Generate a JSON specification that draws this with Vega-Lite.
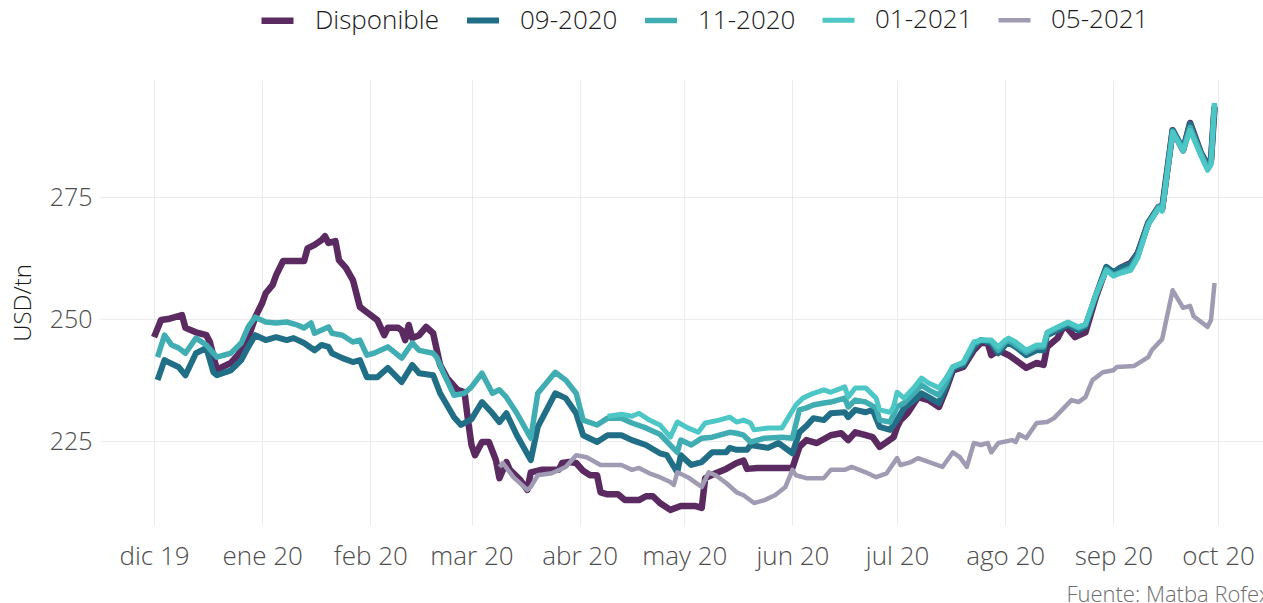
{
  "$schema": "https://vega.github.io/schema/vega-lite/v6.json",
  "width": 1163,
  "height": 445,
  "autosize": {"type": "none"},
  "padding": {"left": 100, "top": 80, "right": 0, "bottom": 78},
  "background": "white",
  "config": {
    "view": {"stroke": null},
    "font": "Open Sans",
    "axis": {"labelFont": "Open Sans", "titleFont": "Open Sans", "labelFontWeight": 300, "titleFontWeight": 300},
    "legend": {"labelFont": "Open Sans", "labelFontWeight": 300}
  },
  "title": {"text": "Fuente: Matba Rofex", "orient": "bottom", "anchor": "end", "fontSize": 22, "fontWeight": 300, "color": "#6e6e6e", "dx": 7, "offset": 16, "font": "Open Sans"},
  "data": {"values": [
    {"s":"Disponible","d":"2019-12-01","v":246.3},{"s":"Disponible","d":"2019-12-03","v":249.8},{"s":"Disponible","d":"2019-12-05","v":250.0},{"s":"Disponible","d":"2019-12-07","v":250.4},{"s":"Disponible","d":"2019-12-09","v":250.8},{"s":"Disponible","d":"2019-12-10","v":248.2},{"s":"Disponible","d":"2019-12-13","v":247.3},{"s":"Disponible","d":"2019-12-16","v":246.7},{"s":"Disponible","d":"2019-12-17","v":245.3},{"s":"Disponible","d":"2019-12-19","v":239.6},{"s":"Disponible","d":"2019-12-20","v":240.0},{"s":"Disponible","d":"2019-12-23","v":241.0},{"s":"Disponible","d":"2019-12-25","v":242.6},{"s":"Disponible","d":"2019-12-28","v":246.1},{"s":"Disponible","d":"2019-12-30","v":250.4},
    {"s":"Disponible","d":"2020-01-01","v":253.3},{"s":"Disponible","d":"2020-01-02","v":255.3},{"s":"Disponible","d":"2020-01-04","v":257.0},{"s":"Disponible","d":"2020-01-05","v":259.0},{"s":"Disponible","d":"2020-01-07","v":261.9},{"s":"Disponible","d":"2020-01-10","v":261.9},{"s":"Disponible","d":"2020-01-13","v":261.9},{"s":"Disponible","d":"2020-01-14","v":264.5},{"s":"Disponible","d":"2020-01-16","v":265.2},{"s":"Disponible","d":"2020-01-18","v":266.2},{"s":"Disponible","d":"2020-01-19","v":267.0},{"s":"Disponible","d":"2020-01-20","v":265.6},{"s":"Disponible","d":"2020-01-22","v":266.0},{"s":"Disponible","d":"2020-01-23","v":262.1},{"s":"Disponible","d":"2020-01-25","v":260.5},{"s":"Disponible","d":"2020-01-27","v":258.0},{"s":"Disponible","d":"2020-01-29","v":252.5},{"s":"Disponible","d":"2020-01-31","v":251.4},
    {"s":"Disponible","d":"2020-02-03","v":249.8},{"s":"Disponible","d":"2020-02-05","v":246.7},{"s":"Disponible","d":"2020-02-06","v":248.2},{"s":"Disponible","d":"2020-02-09","v":248.2},{"s":"Disponible","d":"2020-02-10","v":247.7},{"s":"Disponible","d":"2020-02-11","v":245.7},{"s":"Disponible","d":"2020-02-12","v":248.8},{"s":"Disponible","d":"2020-02-13","v":246.1},{"s":"Disponible","d":"2020-02-15","v":246.7},{"s":"Disponible","d":"2020-02-17","v":248.4},{"s":"Disponible","d":"2020-02-19","v":247.1},{"s":"Disponible","d":"2020-02-21","v":240.6},{"s":"Disponible","d":"2020-02-23","v":237.9},{"s":"Disponible","d":"2020-02-26","v":235.5},{"s":"Disponible","d":"2020-02-28","v":235.0},{"s":"Disponible","d":"2020-02-29","v":229.3},
    {"s":"Disponible","d":"2020-03-01","v":224.2},{"s":"Disponible","d":"2020-03-02","v":222.1},{"s":"Disponible","d":"2020-03-04","v":224.8},{"s":"Disponible","d":"2020-03-06","v":224.8},{"s":"Disponible","d":"2020-03-08","v":221.1},{"s":"Disponible","d":"2020-03-09","v":217.4},{"s":"Disponible","d":"2020-03-11","v":220.7},{"s":"Disponible","d":"2020-03-12","v":219.1},{"s":"Disponible","d":"2020-03-15","v":217.0},{"s":"Disponible","d":"2020-03-17","v":215.0},{"s":"Disponible","d":"2020-03-18","v":218.6},{"s":"Disponible","d":"2020-03-21","v":219.1},{"s":"Disponible","d":"2020-03-23","v":219.1},{"s":"Disponible","d":"2020-03-26","v":219.1},{"s":"Disponible","d":"2020-03-27","v":220.5},{"s":"Disponible","d":"2020-03-29","v":220.7},{"s":"Disponible","d":"2020-03-31","v":220.5},
    {"s":"Disponible","d":"2020-04-02","v":218.9},{"s":"Disponible","d":"2020-04-04","v":218.0},{"s":"Disponible","d":"2020-04-06","v":218.0},{"s":"Disponible","d":"2020-04-07","v":214.5},{"s":"Disponible","d":"2020-04-09","v":214.1},{"s":"Disponible","d":"2020-04-12","v":214.1},{"s":"Disponible","d":"2020-04-14","v":212.9},{"s":"Disponible","d":"2020-04-18","v":212.9},{"s":"Disponible","d":"2020-04-20","v":213.7},{"s":"Disponible","d":"2020-04-22","v":213.7},{"s":"Disponible","d":"2020-04-24","v":212.3},{"s":"Disponible","d":"2020-04-27","v":210.9},{"s":"Disponible","d":"2020-04-30","v":211.7},
    {"s":"Disponible","d":"2020-05-04","v":211.7},{"s":"Disponible","d":"2020-05-06","v":211.3},{"s":"Disponible","d":"2020-05-07","v":217.4},{"s":"Disponible","d":"2020-05-10","v":218.4},{"s":"Disponible","d":"2020-05-13","v":219.3},{"s":"Disponible","d":"2020-05-16","v":220.5},{"s":"Disponible","d":"2020-05-18","v":221.0},{"s":"Disponible","d":"2020-05-19","v":219.3},{"s":"Disponible","d":"2020-05-22","v":219.5},{"s":"Disponible","d":"2020-05-26","v":219.5},{"s":"Disponible","d":"2020-05-30","v":219.5},
    {"s":"Disponible","d":"2020-06-01","v":219.5},{"s":"Disponible","d":"2020-06-03","v":223.8},{"s":"Disponible","d":"2020-06-05","v":225.2},{"s":"Disponible","d":"2020-06-08","v":224.6},{"s":"Disponible","d":"2020-06-12","v":226.2},{"s":"Disponible","d":"2020-06-15","v":226.6},{"s":"Disponible","d":"2020-06-17","v":225.2},{"s":"Disponible","d":"2020-06-19","v":226.8},{"s":"Disponible","d":"2020-06-22","v":226.2},{"s":"Disponible","d":"2020-06-24","v":225.8},{"s":"Disponible","d":"2020-06-26","v":223.8},{"s":"Disponible","d":"2020-06-28","v":224.8},{"s":"Disponible","d":"2020-06-30","v":225.8},
    {"s":"Disponible","d":"2020-07-01","v":227.9},{"s":"Disponible","d":"2020-07-02","v":229.3},{"s":"Disponible","d":"2020-07-04","v":230.7},{"s":"Disponible","d":"2020-07-07","v":234.0},{"s":"Disponible","d":"2020-07-10","v":233.4},{"s":"Disponible","d":"2020-07-13","v":232.0},{"s":"Disponible","d":"2020-07-15","v":235.5},{"s":"Disponible","d":"2020-07-17","v":239.5},{"s":"Disponible","d":"2020-07-20","v":240.2},{"s":"Disponible","d":"2020-07-23","v":243.6},{"s":"Disponible","d":"2020-07-25","v":245.1},{"s":"Disponible","d":"2020-07-27","v":245.1},{"s":"Disponible","d":"2020-07-28","v":242.6},{"s":"Disponible","d":"2020-07-30","v":243.6},
    {"s":"Disponible","d":"2020-08-02","v":242.6},{"s":"Disponible","d":"2020-08-04","v":241.6},{"s":"Disponible","d":"2020-08-07","v":240.0},{"s":"Disponible","d":"2020-08-10","v":241.0},{"s":"Disponible","d":"2020-08-12","v":240.6},{"s":"Disponible","d":"2020-08-13","v":244.3},{"s":"Disponible","d":"2020-08-16","v":246.1},{"s":"Disponible","d":"2020-08-18","v":248.8},{"s":"Disponible","d":"2020-08-21","v":246.3},{"s":"Disponible","d":"2020-08-24","v":247.3},{"s":"Disponible","d":"2020-08-27","v":254.5},{"s":"Disponible","d":"2020-08-30","v":260.5},
    {"s":"Disponible","d":"2020-09-01","v":259.4},{"s":"Disponible","d":"2020-09-03","v":260.5},{"s":"Disponible","d":"2020-09-06","v":261.5},{"s":"Disponible","d":"2020-09-08","v":263.5},{"s":"Disponible","d":"2020-09-11","v":269.7},{"s":"Disponible","d":"2020-09-14","v":273.0},{"s":"Disponible","d":"2020-09-15","v":272.7},{"s":"Disponible","d":"2020-09-18","v":288.7},{"s":"Disponible","d":"2020-09-21","v":284.6},{"s":"Disponible","d":"2020-09-23","v":290.2},{"s":"Disponible","d":"2020-09-26","v":284.2},{"s":"Disponible","d":"2020-09-28","v":281.6},{"s":"Disponible","d":"2020-09-29","v":282.6},{"s":"Disponible","d":"2020-09-30","v":293.4},

    {"s":"09-2020","d":"2019-12-02","v":237.5},{"s":"09-2020","d":"2019-12-04","v":241.6},{"s":"09-2020","d":"2019-12-05","v":241.2},{"s":"09-2020","d":"2019-12-08","v":240.2},{"s":"09-2020","d":"2019-12-10","v":238.5},{"s":"09-2020","d":"2019-12-13","v":243.0},{"s":"09-2020","d":"2019-12-16","v":244.1},{"s":"09-2020","d":"2019-12-18","v":239.1},{"s":"09-2020","d":"2019-12-19","v":238.5},{"s":"09-2020","d":"2019-12-23","v":239.5},{"s":"09-2020","d":"2019-12-26","v":241.6},{"s":"09-2020","d":"2019-12-28","v":244.3},{"s":"09-2020","d":"2019-12-30","v":246.7},
    {"s":"09-2020","d":"2020-01-02","v":245.7},{"s":"09-2020","d":"2020-01-05","v":246.3},{"s":"09-2020","d":"2020-01-08","v":245.7},{"s":"09-2020","d":"2020-01-10","v":246.1},{"s":"09-2020","d":"2020-01-13","v":245.1},{"s":"09-2020","d":"2020-01-16","v":243.6},{"s":"09-2020","d":"2020-01-18","v":244.7},{"s":"09-2020","d":"2020-01-20","v":244.3},{"s":"09-2020","d":"2020-01-21","v":243.0},{"s":"09-2020","d":"2020-01-24","v":242.0},{"s":"09-2020","d":"2020-01-27","v":241.2},{"s":"09-2020","d":"2020-01-29","v":241.6},{"s":"09-2020","d":"2020-01-31","v":238.1},
    {"s":"09-2020","d":"2020-02-03","v":238.1},{"s":"09-2020","d":"2020-02-06","v":240.0},{"s":"09-2020","d":"2020-02-10","v":237.1},{"s":"09-2020","d":"2020-02-13","v":240.6},{"s":"09-2020","d":"2020-02-15","v":238.9},{"s":"09-2020","d":"2020-02-19","v":238.5},{"s":"09-2020","d":"2020-02-21","v":234.8},{"s":"09-2020","d":"2020-02-25","v":229.9},{"s":"09-2020","d":"2020-02-27","v":228.3},
    {"s":"09-2020","d":"2020-03-01","v":229.5},{"s":"09-2020","d":"2020-03-04","v":233.0},{"s":"09-2020","d":"2020-03-07","v":230.7},{"s":"09-2020","d":"2020-03-09","v":228.9},{"s":"09-2020","d":"2020-03-11","v":230.7},{"s":"09-2020","d":"2020-03-14","v":226.2},{"s":"09-2020","d":"2020-03-18","v":221.1},{"s":"09-2020","d":"2020-03-20","v":227.9},{"s":"09-2020","d":"2020-03-25","v":234.8},{"s":"09-2020","d":"2020-03-28","v":233.8},{"s":"09-2020","d":"2020-03-31","v":230.7},
    {"s":"09-2020","d":"2020-04-02","v":226.2},{"s":"09-2020","d":"2020-04-06","v":224.8},{"s":"09-2020","d":"2020-04-09","v":226.2},{"s":"09-2020","d":"2020-04-13","v":226.2},{"s":"09-2020","d":"2020-04-16","v":225.2},{"s":"09-2020","d":"2020-04-20","v":224.2},{"s":"09-2020","d":"2020-04-24","v":222.5},{"s":"09-2020","d":"2020-04-26","v":222.1},{"s":"09-2020","d":"2020-04-29","v":218.6},{"s":"09-2020","d":"2020-04-30","v":222.1},
    {"s":"09-2020","d":"2020-05-03","v":220.1},{"s":"09-2020","d":"2020-05-06","v":220.7},{"s":"09-2020","d":"2020-05-09","v":222.7},{"s":"09-2020","d":"2020-05-13","v":222.7},{"s":"09-2020","d":"2020-05-14","v":223.6},{"s":"09-2020","d":"2020-05-16","v":223.2},{"s":"09-2020","d":"2020-05-19","v":223.2},{"s":"09-2020","d":"2020-05-20","v":224.2},{"s":"09-2020","d":"2020-05-25","v":223.6},{"s":"09-2020","d":"2020-05-28","v":224.6},
    {"s":"09-2020","d":"2020-06-01","v":222.5},{"s":"09-2020","d":"2020-06-03","v":226.8},{"s":"09-2020","d":"2020-06-05","v":228.1},{"s":"09-2020","d":"2020-06-07","v":229.7},{"s":"09-2020","d":"2020-06-10","v":229.3},{"s":"09-2020","d":"2020-06-12","v":230.7},{"s":"09-2020","d":"2020-06-16","v":230.9},{"s":"09-2020","d":"2020-06-17","v":229.9},{"s":"09-2020","d":"2020-06-19","v":231.4},{"s":"09-2020","d":"2020-06-22","v":230.9},{"s":"09-2020","d":"2020-06-24","v":231.4},{"s":"09-2020","d":"2020-06-26","v":227.9},{"s":"09-2020","d":"2020-06-29","v":227.3},
    {"s":"09-2020","d":"2020-07-01","v":229.3},{"s":"09-2020","d":"2020-07-03","v":231.8},{"s":"09-2020","d":"2020-07-06","v":233.4},{"s":"09-2020","d":"2020-07-08","v":234.8},{"s":"09-2020","d":"2020-07-10","v":234.0},{"s":"09-2020","d":"2020-07-13","v":232.8},{"s":"09-2020","d":"2020-07-15","v":236.1},{"s":"09-2020","d":"2020-07-17","v":240.0},{"s":"09-2020","d":"2020-07-20","v":240.6},{"s":"09-2020","d":"2020-07-23","v":244.3},{"s":"09-2020","d":"2020-07-25","v":245.7},{"s":"09-2020","d":"2020-07-28","v":245.1},{"s":"09-2020","d":"2020-07-30","v":243.0},
    {"s":"09-2020","d":"2020-08-01","v":244.7},{"s":"09-2020","d":"2020-08-02","v":245.1},{"s":"09-2020","d":"2020-08-04","v":244.3},{"s":"09-2020","d":"2020-08-07","v":242.6},{"s":"09-2020","d":"2020-08-10","v":243.6},{"s":"09-2020","d":"2020-08-12","v":243.6},{"s":"09-2020","d":"2020-08-13","v":246.7},{"s":"09-2020","d":"2020-08-16","v":247.7},{"s":"09-2020","d":"2020-08-19","v":248.8},{"s":"09-2020","d":"2020-08-22","v":247.7},{"s":"09-2020","d":"2020-08-24","v":248.4},{"s":"09-2020","d":"2020-08-27","v":254.9},{"s":"09-2020","d":"2020-08-30","v":260.7},
    {"s":"09-2020","d":"2020-09-01","v":259.6},{"s":"09-2020","d":"2020-09-03","v":260.5},{"s":"09-2020","d":"2020-09-06","v":261.3},{"s":"09-2020","d":"2020-09-08","v":263.5},{"s":"09-2020","d":"2020-09-11","v":269.7},{"s":"09-2020","d":"2020-09-14","v":273.0},{"s":"09-2020","d":"2020-09-15","v":272.5},{"s":"09-2020","d":"2020-09-18","v":288.7},{"s":"09-2020","d":"2020-09-21","v":284.8},{"s":"09-2020","d":"2020-09-23","v":290.0},{"s":"09-2020","d":"2020-09-26","v":284.2},{"s":"09-2020","d":"2020-09-28","v":281.4},{"s":"09-2020","d":"2020-09-29","v":282.4},{"s":"09-2020","d":"2020-09-30","v":293.6},

    {"s":"11-2020","d":"2019-12-02","v":242.2},{"s":"11-2020","d":"2019-12-04","v":246.7},{"s":"11-2020","d":"2019-12-06","v":244.7},{"s":"11-2020","d":"2019-12-08","v":244.1},{"s":"11-2020","d":"2019-12-10","v":243.0},{"s":"11-2020","d":"2019-12-13","v":246.1},{"s":"11-2020","d":"2019-12-16","v":244.7},{"s":"11-2020","d":"2019-12-19","v":242.2},{"s":"11-2020","d":"2019-12-23","v":243.0},{"s":"11-2020","d":"2019-12-26","v":245.1},{"s":"11-2020","d":"2019-12-28","v":248.4},{"s":"11-2020","d":"2019-12-30","v":250.4},
    {"s":"11-2020","d":"2020-01-02","v":249.4},{"s":"11-2020","d":"2020-01-05","v":249.2},{"s":"11-2020","d":"2020-01-08","v":249.4},{"s":"11-2020","d":"2020-01-11","v":248.8},{"s":"11-2020","d":"2020-01-13","v":248.2},{"s":"11-2020","d":"2020-01-15","v":249.2},{"s":"11-2020","d":"2020-01-16","v":247.1},{"s":"11-2020","d":"2020-01-20","v":248.4},{"s":"11-2020","d":"2020-01-21","v":247.1},{"s":"11-2020","d":"2020-01-24","v":246.7},{"s":"11-2020","d":"2020-01-27","v":245.3},{"s":"11-2020","d":"2020-01-29","v":245.7},{"s":"11-2020","d":"2020-01-31","v":242.6},
    {"s":"11-2020","d":"2020-02-02","v":243.0},{"s":"11-2020","d":"2020-02-06","v":244.3},{"s":"11-2020","d":"2020-02-10","v":242.0},{"s":"11-2020","d":"2020-02-13","v":245.1},{"s":"11-2020","d":"2020-02-15","v":243.6},{"s":"11-2020","d":"2020-02-19","v":243.0},{"s":"11-2020","d":"2020-02-20","v":242.2},{"s":"11-2020","d":"2020-02-22","v":238.9},{"s":"11-2020","d":"2020-02-25","v":234.4},{"s":"11-2020","d":"2020-02-28","v":234.8},
    {"s":"11-2020","d":"2020-03-01","v":236.1},{"s":"11-2020","d":"2020-03-04","v":238.9},{"s":"11-2020","d":"2020-03-07","v":234.8},{"s":"11-2020","d":"2020-03-09","v":235.5},{"s":"11-2020","d":"2020-03-11","v":234.0},{"s":"11-2020","d":"2020-03-14","v":230.7},{"s":"11-2020","d":"2020-03-18","v":225.6},{"s":"11-2020","d":"2020-03-20","v":234.8},{"s":"11-2020","d":"2020-03-25","v":239.1},{"s":"11-2020","d":"2020-03-28","v":237.5},{"s":"11-2020","d":"2020-03-31","v":234.8},
    {"s":"11-2020","d":"2020-04-02","v":229.3},{"s":"11-2020","d":"2020-04-06","v":228.3},{"s":"11-2020","d":"2020-04-09","v":229.7},{"s":"11-2020","d":"2020-04-13","v":229.7},{"s":"11-2020","d":"2020-04-16","v":228.7},{"s":"11-2020","d":"2020-04-20","v":227.7},{"s":"11-2020","d":"2020-04-24","v":226.4},{"s":"11-2020","d":"2020-04-29","v":222.7},{"s":"11-2020","d":"2020-04-30","v":225.2},
    {"s":"11-2020","d":"2020-05-03","v":224.2},{"s":"11-2020","d":"2020-05-06","v":225.6},{"s":"11-2020","d":"2020-05-09","v":225.8},{"s":"11-2020","d":"2020-05-14","v":226.8},{"s":"11-2020","d":"2020-05-16","v":226.6},{"s":"11-2020","d":"2020-05-18","v":226.2},{"s":"11-2020","d":"2020-05-20","v":224.8},{"s":"11-2020","d":"2020-05-24","v":225.6},{"s":"11-2020","d":"2020-05-29","v":225.8},
    {"s":"11-2020","d":"2020-06-01","v":225.6},{"s":"11-2020","d":"2020-06-03","v":231.4},{"s":"11-2020","d":"2020-06-05","v":231.8},{"s":"11-2020","d":"2020-06-07","v":232.4},{"s":"11-2020","d":"2020-06-10","v":232.8},{"s":"11-2020","d":"2020-06-12","v":233.0},{"s":"11-2020","d":"2020-06-16","v":233.8},{"s":"11-2020","d":"2020-06-17","v":232.0},{"s":"11-2020","d":"2020-06-19","v":233.4},{"s":"11-2020","d":"2020-06-22","v":233.0},{"s":"11-2020","d":"2020-06-25","v":231.8},{"s":"11-2020","d":"2020-06-26","v":229.3},{"s":"11-2020","d":"2020-06-29","v":228.9},
    {"s":"11-2020","d":"2020-07-01","v":232.0},{"s":"11-2020","d":"2020-07-03","v":232.8},{"s":"11-2020","d":"2020-07-06","v":235.0},{"s":"11-2020","d":"2020-07-08","v":236.5},{"s":"11-2020","d":"2020-07-10","v":235.5},{"s":"11-2020","d":"2020-07-13","v":234.4},{"s":"11-2020","d":"2020-07-15","v":236.9},{"s":"11-2020","d":"2020-07-17","v":240.2},{"s":"11-2020","d":"2020-07-20","v":241.0},{"s":"11-2020","d":"2020-07-23","v":244.9},{"s":"11-2020","d":"2020-07-25","v":245.7},{"s":"11-2020","d":"2020-07-28","v":245.5},{"s":"11-2020","d":"2020-07-30","v":243.6},
    {"s":"11-2020","d":"2020-08-01","v":245.3},{"s":"11-2020","d":"2020-08-02","v":245.7},{"s":"11-2020","d":"2020-08-04","v":244.7},{"s":"11-2020","d":"2020-08-07","v":243.2},{"s":"11-2020","d":"2020-08-10","v":244.3},{"s":"11-2020","d":"2020-08-12","v":244.3},{"s":"11-2020","d":"2020-08-13","v":247.1},{"s":"11-2020","d":"2020-08-16","v":248.2},{"s":"11-2020","d":"2020-08-19","v":249.2},{"s":"11-2020","d":"2020-08-22","v":248.2},{"s":"11-2020","d":"2020-08-24","v":248.8},{"s":"11-2020","d":"2020-08-27","v":254.9},{"s":"11-2020","d":"2020-08-30","v":260.2},
    {"s":"11-2020","d":"2020-09-01","v":259.0},{"s":"11-2020","d":"2020-09-03","v":259.6},{"s":"11-2020","d":"2020-09-06","v":260.5},{"s":"11-2020","d":"2020-09-08","v":262.9},{"s":"11-2020","d":"2020-09-11","v":269.5},{"s":"11-2020","d":"2020-09-14","v":273.0},{"s":"11-2020","d":"2020-09-15","v":272.3},{"s":"11-2020","d":"2020-09-18","v":288.5},{"s":"11-2020","d":"2020-09-21","v":284.6},{"s":"11-2020","d":"2020-09-23","v":289.3},{"s":"11-2020","d":"2020-09-26","v":284.0},{"s":"11-2020","d":"2020-09-28","v":280.9},{"s":"11-2020","d":"2020-09-29","v":282.0},{"s":"11-2020","d":"2020-09-30","v":294.1},

    {"s":"01-2021","d":"2020-04-09","v":230.1},{"s":"01-2021","d":"2020-04-13","v":230.5},{"s":"01-2021","d":"2020-04-16","v":230.1},{"s":"01-2021","d":"2020-04-18","v":230.7},{"s":"01-2021","d":"2020-04-21","v":229.3},{"s":"01-2021","d":"2020-04-24","v":228.3},{"s":"01-2021","d":"2020-04-27","v":225.8},{"s":"01-2021","d":"2020-04-29","v":228.9},
    {"s":"01-2021","d":"2020-05-02","v":227.7},{"s":"01-2021","d":"2020-05-05","v":226.8},{"s":"01-2021","d":"2020-05-07","v":228.7},{"s":"01-2021","d":"2020-05-11","v":229.3},{"s":"01-2021","d":"2020-05-14","v":229.9},{"s":"01-2021","d":"2020-05-16","v":228.9},{"s":"01-2021","d":"2020-05-18","v":229.3},{"s":"01-2021","d":"2020-05-20","v":228.7},{"s":"01-2021","d":"2020-05-21","v":227.3},{"s":"01-2021","d":"2020-05-25","v":227.7},{"s":"01-2021","d":"2020-05-29","v":227.7},
    {"s":"01-2021","d":"2020-06-02","v":232.4},{"s":"01-2021","d":"2020-06-04","v":233.8},{"s":"01-2021","d":"2020-06-07","v":234.8},{"s":"01-2021","d":"2020-06-10","v":235.5},{"s":"01-2021","d":"2020-06-12","v":235.0},{"s":"01-2021","d":"2020-06-16","v":236.1},{"s":"01-2021","d":"2020-06-17","v":234.0},{"s":"01-2021","d":"2020-06-19","v":235.9},{"s":"01-2021","d":"2020-06-22","v":235.9},{"s":"01-2021","d":"2020-06-25","v":233.8},{"s":"01-2021","d":"2020-06-26","v":231.4},{"s":"01-2021","d":"2020-06-29","v":230.9},{"s":"01-2021","d":"2020-06-30","v":232.0},
    {"s":"01-2021","d":"2020-07-01","v":235.0},{"s":"01-2021","d":"2020-07-03","v":233.8},{"s":"01-2021","d":"2020-07-06","v":236.1},{"s":"01-2021","d":"2020-07-08","v":237.9},{"s":"01-2021","d":"2020-07-10","v":236.9},{"s":"01-2021","d":"2020-07-13","v":235.9},{"s":"01-2021","d":"2020-07-15","v":237.9},{"s":"01-2021","d":"2020-07-17","v":240.2},{"s":"01-2021","d":"2020-07-20","v":241.2},{"s":"01-2021","d":"2020-07-23","v":245.3},{"s":"01-2021","d":"2020-07-25","v":245.7},{"s":"01-2021","d":"2020-07-28","v":245.7},{"s":"01-2021","d":"2020-07-30","v":244.3},
    {"s":"01-2021","d":"2020-08-01","v":245.7},{"s":"01-2021","d":"2020-08-02","v":246.1},{"s":"01-2021","d":"2020-08-04","v":245.3},{"s":"01-2021","d":"2020-08-07","v":243.6},{"s":"01-2021","d":"2020-08-10","v":244.7},{"s":"01-2021","d":"2020-08-12","v":244.7},{"s":"01-2021","d":"2020-08-13","v":247.3},{"s":"01-2021","d":"2020-08-16","v":248.4},{"s":"01-2021","d":"2020-08-19","v":249.4},{"s":"01-2021","d":"2020-08-22","v":248.4},{"s":"01-2021","d":"2020-08-24","v":249.0},{"s":"01-2021","d":"2020-08-27","v":255.1},{"s":"01-2021","d":"2020-08-30","v":260.0},
    {"s":"01-2021","d":"2020-09-01","v":258.8},{"s":"01-2021","d":"2020-09-03","v":259.4},{"s":"01-2021","d":"2020-09-06","v":260.0},{"s":"01-2021","d":"2020-09-08","v":262.5},{"s":"01-2021","d":"2020-09-11","v":269.3},{"s":"01-2021","d":"2020-09-14","v":272.7},{"s":"01-2021","d":"2020-09-15","v":272.1},{"s":"01-2021","d":"2020-09-18","v":288.3},{"s":"01-2021","d":"2020-09-21","v":284.4},{"s":"01-2021","d":"2020-09-23","v":288.7},{"s":"01-2021","d":"2020-09-26","v":283.6},{"s":"01-2021","d":"2020-09-28","v":280.5},{"s":"01-2021","d":"2020-09-29","v":281.6},{"s":"01-2021","d":"2020-09-30","v":294.3},

    {"s":"05-2021","d":"2020-03-09","v":219.7},{"s":"05-2021","d":"2020-03-10","v":220.5},{"s":"05-2021","d":"2020-03-13","v":217.6},{"s":"05-2021","d":"2020-03-17","v":215.0},{"s":"05-2021","d":"2020-03-18","v":215.6},{"s":"05-2021","d":"2020-03-20","v":218.0},{"s":"05-2021","d":"2020-03-24","v":218.4},{"s":"05-2021","d":"2020-03-28","v":219.7},{"s":"05-2021","d":"2020-03-31","v":222.1},
    {"s":"05-2021","d":"2020-04-03","v":221.7},{"s":"05-2021","d":"2020-04-07","v":220.1},{"s":"05-2021","d":"2020-04-13","v":220.1},{"s":"05-2021","d":"2020-04-16","v":219.1},{"s":"05-2021","d":"2020-04-18","v":219.5},{"s":"05-2021","d":"2020-04-21","v":218.4},{"s":"05-2021","d":"2020-04-24","v":217.6},{"s":"05-2021","d":"2020-04-27","v":216.6},{"s":"05-2021","d":"2020-04-28","v":216.0},{"s":"05-2021","d":"2020-04-29","v":218.6},
    {"s":"05-2021","d":"2020-05-02","v":217.6},{"s":"05-2021","d":"2020-05-06","v":215.6},{"s":"05-2021","d":"2020-05-08","v":218.6},{"s":"05-2021","d":"2020-05-10","v":218.0},{"s":"05-2021","d":"2020-05-13","v":216.4},{"s":"05-2021","d":"2020-05-16","v":214.5},{"s":"05-2021","d":"2020-05-18","v":213.9},{"s":"05-2021","d":"2020-05-21","v":212.3},{"s":"05-2021","d":"2020-05-24","v":212.9},{"s":"05-2021","d":"2020-05-27","v":213.9},{"s":"05-2021","d":"2020-05-30","v":215.6},
    {"s":"05-2021","d":"2020-06-01","v":219.1},{"s":"05-2021","d":"2020-06-02","v":218.0},{"s":"05-2021","d":"2020-06-05","v":217.4},{"s":"05-2021","d":"2020-06-10","v":217.4},{"s":"05-2021","d":"2020-06-12","v":219.1},{"s":"05-2021","d":"2020-06-16","v":219.1},{"s":"05-2021","d":"2020-06-18","v":219.7},{"s":"05-2021","d":"2020-06-22","v":218.6},{"s":"05-2021","d":"2020-06-25","v":217.6},{"s":"05-2021","d":"2020-06-28","v":218.4},
    {"s":"05-2021","d":"2020-07-01","v":221.5},{"s":"05-2021","d":"2020-07-02","v":220.1},{"s":"05-2021","d":"2020-07-05","v":220.7},{"s":"05-2021","d":"2020-07-07","v":221.5},{"s":"05-2021","d":"2020-07-11","v":220.5},{"s":"05-2021","d":"2020-07-14","v":219.7},{"s":"05-2021","d":"2020-07-17","v":222.7},{"s":"05-2021","d":"2020-07-19","v":221.7},{"s":"05-2021","d":"2020-07-21","v":219.7},{"s":"05-2021","d":"2020-07-23","v":224.6},{"s":"05-2021","d":"2020-07-25","v":224.2},{"s":"05-2021","d":"2020-07-27","v":224.6},{"s":"05-2021","d":"2020-07-28","v":222.7},{"s":"05-2021","d":"2020-07-30","v":224.6},
    {"s":"05-2021","d":"2020-08-03","v":225.2},{"s":"05-2021","d":"2020-08-04","v":224.8},{"s":"05-2021","d":"2020-08-05","v":226.4},{"s":"05-2021","d":"2020-08-07","v":225.6},{"s":"05-2021","d":"2020-08-10","v":228.7},{"s":"05-2021","d":"2020-08-13","v":228.9},{"s":"05-2021","d":"2020-08-15","v":229.7},{"s":"05-2021","d":"2020-08-20","v":233.4},{"s":"05-2021","d":"2020-08-22","v":233.0},{"s":"05-2021","d":"2020-08-24","v":234.0},{"s":"05-2021","d":"2020-08-26","v":237.5},{"s":"05-2021","d":"2020-08-29","v":239.1},
    {"s":"05-2021","d":"2020-09-01","v":239.5},{"s":"05-2021","d":"2020-09-02","v":240.2},{"s":"05-2021","d":"2020-09-07","v":240.4},{"s":"05-2021","d":"2020-09-11","v":242.2},{"s":"05-2021","d":"2020-09-12","v":243.6},{"s":"05-2021","d":"2020-09-15","v":245.9},{"s":"05-2021","d":"2020-09-18","v":255.9},{"s":"05-2021","d":"2020-09-21","v":252.3},{"s":"05-2021","d":"2020-09-23","v":252.7},{"s":"05-2021","d":"2020-09-24","v":250.6},{"s":"05-2021","d":"2020-09-28","v":248.4},{"s":"05-2021","d":"2020-09-29","v":249.8},{"s":"05-2021","d":"2020-09-30","v":257.4}
  ]},
  "mark": {"type": "line", "strokeJoin": "round", "strokeCap": "butt"},
  "encoding": {
    "x": {
      "field": "d", "type": "temporal",
      "scale": {"type": "utc", "domain": [1573819200000, 1602624960000]},
      "axis": {
        "title": null, "domain": false, "ticks": false, "grid": true, "gridColor": "#ebebeb", "gridWidth": 1,
        "values": [1575158400000, 1577836800000, 1580515200000, 1583020800000, 1585699200000, 1588291200000, 1590969600000, 1593561600000, 1596240000000, 1598918400000, 1601510400000],
        "labelExpr": "['ene','feb','mar','abr','may','jun','jul','ago','sep','oct','nov','dic'][utcmonth(datum.value)] + ' ' + utcFormat(datum.value, '%y')",
        "labelFontSize": 26, "labelColor": "#4d4d4d", "labelPadding": 18, "labelFlush": false, "labelOverlap": false
      }
    },
    "y": {
      "field": "v", "type": "quantitative",
      "scale": {"domain": [207.8, 299.0], "zero": false, "nice": false},
      "axis": {
        "title": "USD/tn", "titleFontSize": 24, "titleColor": "#1a1a1a", "titlePadding": 14,
        "values": [225, 250, 275], "domain": false, "ticks": false, "grid": true, "gridColor": "#ebebeb", "gridWidth": 1,
        "labelFontSize": 25, "labelColor": "#4d4d4d", "labelPadding": 8
      }
    },
    "color": {
      "field": "s", "type": "nominal",
      "scale": {"domain": ["Disponible", "09-2020", "11-2020", "01-2021", "05-2021"], "range": ["#5a2a60", "#216f86", "#3fadb1", "#4dc7c6", "#a09bb3"]},
      "legend": {"title": null, "orient": "none", "direction": "horizontal", "legendX": 158, "legendY": -79, "symbolType": "stroke", "symbolSize": 1024, "labelFontSize": 26, "labelColor": "#1a1a1a", "labelOffset": 18, "columnPadding": 16, "labelLimit": 300}
    },
    "strokeWidth": {
      "field": "s", "type": "nominal",
      "scale": {"domain": ["Disponible", "09-2020", "11-2020", "01-2021", "05-2021"], "range": [6.5, 4.5, 3.5, 3.5, 1.6]},
      "legend": {"title": null, "orient": "none", "direction": "horizontal", "legendX": 158, "legendY": -79, "symbolType": "stroke", "symbolSize": 1024, "labelFontSize": 26, "labelColor": "#1a1a1a", "labelOffset": 18, "columnPadding": 16, "labelLimit": 300}
    }
  }
}
